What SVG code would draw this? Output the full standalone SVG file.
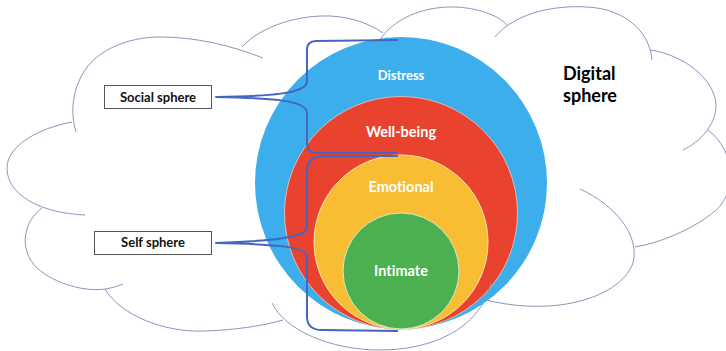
<svg xmlns="http://www.w3.org/2000/svg" width="726" height="351" viewBox="0 0 726 351">
  <style>
    text { font-variant-ligatures: none; }
    .cloud { fill: none; stroke: #8a96bd; stroke-width: 1; }
    .brace { fill: none; stroke: #4466c0; stroke-width: 2; stroke-linejoin: round; }
    .lbl { font-family: Lato, "Liberation Sans", sans-serif; font-weight: bold; fill: #ffffff; text-anchor: middle; }
    .box { fill: #ffffff; stroke: #555555; stroke-width: 1; }
    .boxtxt { font-family: Lato, "Liberation Sans", sans-serif; font-weight: bold; fill: #111111; text-anchor: middle; font-size: 13px; }
    .big { font-family: Lato, "Liberation Sans", sans-serif; font-weight: bold; fill: #000000; font-size: 18px; }
  </style>
  <rect x="0" y="0" width="726" height="351" fill="#ffffff"/>

  <g id="distress">
    <circle cx="401" cy="183" r="146" fill="#3daeec"/>
    <text class="lbl" x="401" y="80" font-size="13">Distress</text>
  </g>
  <g id="well-being">
    <circle cx="401" cy="213" r="116.5" fill="#e9432f" stroke="#f3c9c0" stroke-width="0.8"/>
    <text class="lbl" x="401" y="137" font-size="14.5">Well-being</text>
  </g>
  <g id="emotional">
    <circle cx="401" cy="242" r="87" fill="#f9bd33" stroke="#fbe6b0" stroke-width="1"/>
    <text class="lbl" x="401" y="192" font-size="14.5">Emotional</text>
  </g>
  <g id="intimate">
    <circle cx="401" cy="271" r="58" fill="#4caf50" stroke="#d8ecc8" stroke-width="1"/>
    <text class="lbl" x="401" y="276" font-size="14.5">Intimate</text>
  </g>

  <g id="digital-sphere">
    <path class="cloud" d="M76,132 C70,112 72,88 87,67 C105,45 135,37 160,37 C195,37 230,45 263,58"/>
    <path class="cloud" d="M72,122 C40,128 7,145 7,168 C7,195 40,213 85,215"/>
    <path class="cloud" d="M42,208 C25,220 17,248 37,268 C55,284 85,292 105,289 C112,288 118,286 123,284"/>
    <path class="cloud" d="M105,289 C120,315 165,333 205,331 C235,330 262,326 283,320"/>
    <path class="cloud" d="M272,303 C285,330 330,350 380,350 C430,350 480,330 491,283"/>
    <path class="cloud" d="M580,189 C615,205 640,235 633,263 C622,295 560,318 486,300"/>
    <path class="cloud" d="M708,130 C735,150 740,195 710,215 C690,230 660,243 635,247"/>
    <path class="cloud" d="M650,50 C685,55 715,80 716,105 C716,125 700,142 683,150"/>
    <path class="cloud" d="M495,37 C515,12 560,3 597,8 C630,13 650,35 652,60"/>
    <path class="cloud" d="M378,43 C392,18 425,6 455,7 C478,8 498,15 507,25"/>
    <path class="cloud" d="M242,47 C262,25 300,15 330,16 C352,17 370,24 383,33"/>
    <text class="big" x="563" y="80">Digital</text>
    <text class="big" x="563" y="102">sphere</text>
  </g>

  <g id="connectors">
    <path class="brace" d="M398,40 L316,41 Q307,41 307,50 L307,82 C305,94 270,96 216,97 C270,98 305,100 307,112 L307,143 Q307,153 318,153 L398,153"/>
    <path class="brace" d="M398,156 L322,156 Q307,157 307,172 L307,228 C305,238 270,241 216,243 C270,244 305,246 307,256 L307,318 Q308,330 322,330 L398,331"/>
  </g>

  <g id="social-sphere">
    <rect class="box" x="104.5" y="85.5" width="107" height="23"/>
    <text class="boxtxt" x="158" y="102">Social sphere</text>
  </g>
  <g id="self-sphere">
    <rect class="box" x="94.5" y="231.5" width="117" height="23"/>
    <text class="boxtxt" x="153" y="247">Self sphere</text>
  </g>
</svg>
